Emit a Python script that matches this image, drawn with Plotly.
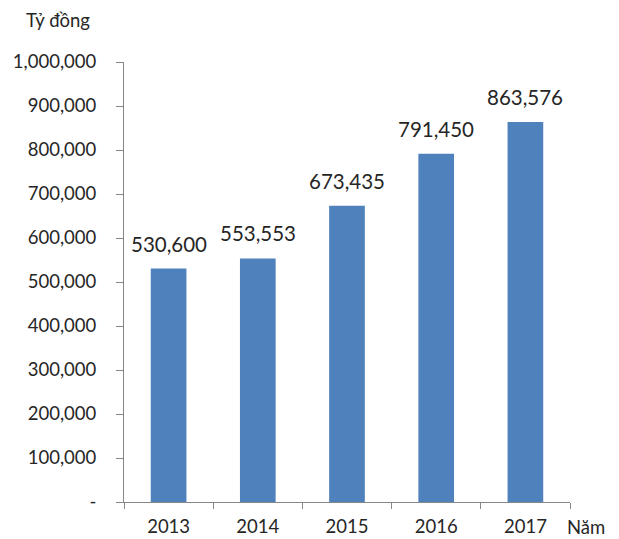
import plotly.graph_objects as go

# Annual totals (billion VND)
years = ["2013", "2014", "2015", "2016", "2017"]
values = [530600, 553553, 673435, 791450, 863576]
value_labels = ["530,600", "553,553", "673,435", "791,450", "863,576"]

y_ticks = [0, 100000, 200000, 300000, 400000, 500000, 600000, 700000, 800000, 900000, 1000000]
y_tick_labels = ["-", "100,000", "200,000", "300,000", "400,000", "500,000",
                 "600,000", "700,000", "800,000", "900,000", "1,000,000"]

FONT = "Lato, 'Open Sans', sans-serif"
TEXT_COLOR = "#262626"
AXIS_COLOR = "#868686"
BAR_COLOR = "#4F81BD"

fig = go.Figure()
fig.add_trace(go.Bar(
    x=years,
    y=values,
    marker=dict(color=BAR_COLOR, line=dict(width=0)),
    hoverinfo="skip",
))

# Value labels above each bar
for i, (v, lab) in enumerate(zip(values, value_labels)):
    fig.add_annotation(
        x=i, y=v, text=lab, showarrow=False,
        yanchor="bottom", yshift=11,
        font=dict(family=FONT, size=20.5, color=TEXT_COLOR),
    )

# Axis captions
fig.add_annotation(
    xref="paper", yref="paper", x=-0.148, y=1.095,
    xanchor="center", yanchor="middle",
    text="Tỷ đồng", showarrow=False,
    font=dict(family=FONT, size=18.5, color=TEXT_COLOR),
)
fig.add_annotation(
    xref="paper", yref="paper", x=0.989, y=-0.057,
    xanchor="left", yanchor="middle",
    text="Năm", showarrow=False,
    font=dict(family=FONT, size=18.5, color=TEXT_COLOR),
)

fig.update_layout(
    width=619, height=539,
    margin=dict(l=124, r=49, t=62, b=37),
    plot_bgcolor="white", paper_bgcolor="white",
    showlegend=False,
    bargap=0.6,
    xaxis=dict(
        type="category",
        categoryorder="array", categoryarray=years,
        range=[-0.5, 4.5],
        automargin=False,
        showline=True, linecolor=AXIS_COLOR, linewidth=1,
        ticks="outside", ticklen=6, tickcolor=AXIS_COLOR,
        tickson="boundaries",
        showgrid=False, zeroline=False,
        tickangle=0,
        tickfont=dict(family=FONT, size=18.5, color=TEXT_COLOR),
        ticklabelstandoff=8,
    ),
    yaxis=dict(
        range=[0, 1000000],
        automargin=False,
        tickvals=y_ticks, ticktext=y_tick_labels,
        showline=True, linecolor=AXIS_COLOR, linewidth=1,
        ticks="outside", ticklen=7, tickcolor=AXIS_COLOR,
        showgrid=False, zeroline=False,
        tickfont=dict(family=FONT, size=18.5, color=TEXT_COLOR),
        ticklabelstandoff=16,
    ),
)

fig.write_html("out.html")
